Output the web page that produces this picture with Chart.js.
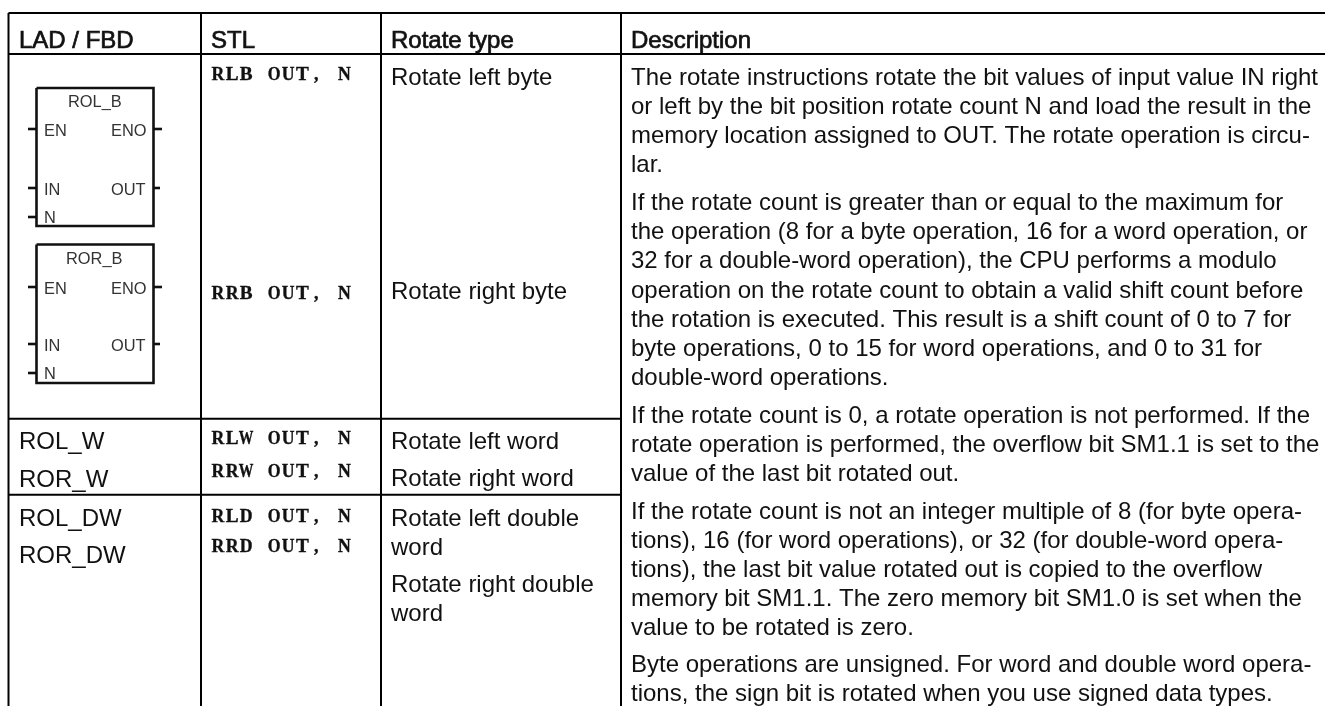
<!DOCTYPE html>
<html>
<head>
<meta charset="utf-8">
<title>Rotate instructions</title>
<script src="https://cdn.jsdelivr.net/npm/chart.js@4"></script>
<style>
  html, body { margin: 0; padding: 0; background: #fff; overflow: hidden; }
  canvas { display: block; filter: blur(0.35px); }
</style>
</head>
<body>
<canvas id="tableChart" width="1325" height="706"></canvas>
<script>
// table text
const headers = ["LAD / FBD", "STL", "Rotate type", "Description"];
const ladLabels = ["ROL_W", "ROR_W", "ROL_DW", "ROR_DW"];
const stlLabels = ["RLB OUT, N", "RRB OUT, N", "RLW OUT, N", "RRW OUT, N", "RLD OUT, N", "RRD OUT, N"];
const typeLabels = ["Rotate left byte", "Rotate right byte", "Rotate left word", "Rotate right word",
    "Rotate left double", "word", "Rotate right double", "word"];
const descLines = [
    "The rotate instructions rotate the bit values of input value IN right",
    "or left by the bit position rotate count N and load the result in the",
    "memory location assigned to OUT. The rotate operation is circu-",
    "lar.",
    "If the rotate count is greater than or equal to the maximum for",
    "the operation (8 for a byte operation, 16 for a word operation, or",
    "32 for a double-word operation), the CPU performs a modulo",
    "operation on the rotate count to obtain a valid shift count before",
    "the rotation is executed. This result is a shift count of 0 to 7 for",
    "byte operations, 0 to 15 for word operations, and 0 to 31 for",
    "double-word operations.",
    "If the rotate count is 0, a rotate operation is not performed. If the",
    "rotate operation is performed, the overflow bit SM1.1 is set to the",
    "value of the last bit rotated out.",
    "If the rotate count is not an integer multiple of 8 (for byte opera-",
    "tions), 16 (for word operations), or 32 (for double-word opera-",
    "tions), the last bit value rotated out is copied to the overflow",
    "memory bit SM1.1. The zero memory bit SM1.0 is set when the",
    "value to be rotated is zero.",
    "Byte operations are unsigned. For word and double word opera-",
    "tions, the sign bit is rotated when you use signed data types."
];
const blockNames = ["ROL_B", "ROR_B"];

// baselines, in picture pixels
const ladY = [448.5, 486.5, 525.5, 562.5];
const stlY = [80, 299, 444, 477, 522, 552];
const typeY = [85, 299, 449, 486, 526, 555, 592, 621];
const descY = [85, 114, 143, 172, 210, 239, 268, 297.5, 326.5, 356, 385,
    422.5, 451.5, 480.5, 518.5, 547.5, 576.5, 606, 635, 672, 701];
const colX = [8.5, 201, 381, 621];
const rowY = [13, 54, 418.7, 494.7];
const blockTop = [88, 244.5];
const blockBottom = [226, 383];
const pinY = [[129, 188, 217], [287, 344, 373]];

function seg(x1, y1, x2, y2) {
    return [{ x: x1, y: y1 }, { x: x2, y: y2 }];
}

function lineSet(points, width, color) {
    return { data: points, showLine: true, borderColor: color, borderWidth: width,
        pointRadius: 0, fill: false, tension: 0 };
}

const datasets = [];
const INK = "#000";

// table rules
datasets.push(lineSet(seg(colX[0], rowY[0], 1325, rowY[0]), 2, INK));
datasets.push(lineSet(seg(colX[0], rowY[1], 1325, rowY[1]), 2, INK));
datasets.push(lineSet(seg(colX[0], rowY[2], colX[3], rowY[2]), 2, INK));
datasets.push(lineSet(seg(colX[0], rowY[3], colX[3], rowY[3]), 2, INK));
colX.forEach(x => datasets.push(lineSet(seg(x, rowY[0], x, 706), 2, INK)));

// the two function blocks
blockTop.forEach((top, i) => {
    const bottom = blockBottom[i];
    datasets.push(lineSet([
        { x: 36.5, y: top }, { x: 153.5, y: top }, { x: 153.5, y: bottom },
        { x: 36.5, y: bottom }, { x: 36.5, y: top }
    ], 2.6, "#111"));
    pinY[i].forEach(y => datasets.push(lineSet(seg(28, y, 37, y), 2.6, "#111")));
    datasets.push(lineSet(seg(153, pinY[i][0], 162, pinY[i][0]), 2.6, "#111"));
    datasets.push(lineSet(seg(153, pinY[i][1], 160, pinY[i][1]), 2.6, "#111"));
});

// cell text goes on top through the same scales
const cellText = {
    id: "cellText",
    afterDatasetsDraw(chart) {
        const { ctx, scales } = chart;
        const px = v => scales.x.getPixelForValue(v);
        const py = v => scales.y.getPixelForValue(v);
        const BODY = '24px "Liberation Sans"';

        ctx.save();
        ctx.textBaseline = "alphabetic";
        ctx.fillStyle = "#111";
        ctx.strokeStyle = "#111";

        // header, thickened regular face
        ctx.font = BODY;
        ctx.lineWidth = 0.7;
        headers.forEach((h, i) => {
            const x = px(colX[i] + (i === 0 ? 10.5 : 10));
            ctx.fillText(h, x, py(47.7));
            ctx.strokeText(h, x, py(47.7));
        });

        ladLabels.forEach((t, i) => ctx.fillText(t, px(19), py(ladY[i])));
        typeLabels.forEach((t, i) => ctx.fillText(t, px(391), py(typeY[i])));
        descLines.forEach((t, i) => ctx.fillText(t, px(631), py(descY[i])));

        // STL column: no Courier here, so stretch bold serif glyphs onto a 14px grid
        ctx.font = 'bold 18px "Liberation Serif"';
        ctx.textAlign = "center";
        ctx.lineWidth = 0.35;
        stlLabels.forEach((t, i) => {
            [...t].forEach((ch, k) => {
                if (ch === " ") return;
                const glyphWidth = ch === "W" ? 14.6 : 12.8;
                const stretch = ch === "," ? 1 : glyphWidth / ctx.measureText(ch).width;
                ctx.save();
                ctx.translate(px(218 + k * 14.05), py(stlY[i]));
                ctx.scale(stretch, 1);
                ctx.fillText(ch, 0, 0);
                ctx.strokeText(ch, 0, 0);
                ctx.restore();
            });
        });
        ctx.textAlign = "left";

        // labels inside the blocks
        ctx.fillStyle = "#333";
        ctx.font = '16.4px "Liberation Sans"';
        blockNames.forEach((name, i) => {
            const nameBase = i === 0 ? 107 : 264;
            ctx.fillText(name, px(i === 0 ? 68 : 66), py(nameBase));
            ctx.fillText("EN", px(44), py(pinY[i][0] + 7));
            ctx.fillText("ENO", px(111), py(pinY[i][0] + 7));
            ctx.fillText("IN", px(44), py(pinY[i][1] + 6.5));
            ctx.fillText("OUT", px(111), py(pinY[i][1] + 6.5));
            ctx.fillText("N", px(44), py(pinY[i][2] + 6));
        });
        ctx.restore();
    }
};

new Chart(document.getElementById("tableChart").getContext("2d"), {
    type: "scatter",
    data: { datasets: datasets },
    plugins: [cellText],
    options: {
        responsive: false,
        animation: false,
        layout: { padding: 0 },
        plugins: { legend: { display: false }, tooltip: { enabled: false }, title: { display: false } },
        scales: {
            x: { type: "linear", min: 0, max: 1325, display: false },
            y: { type: "linear", min: 0, max: 706, reverse: true, display: false }
        }
    }
});
</script>
</body>
</html>
